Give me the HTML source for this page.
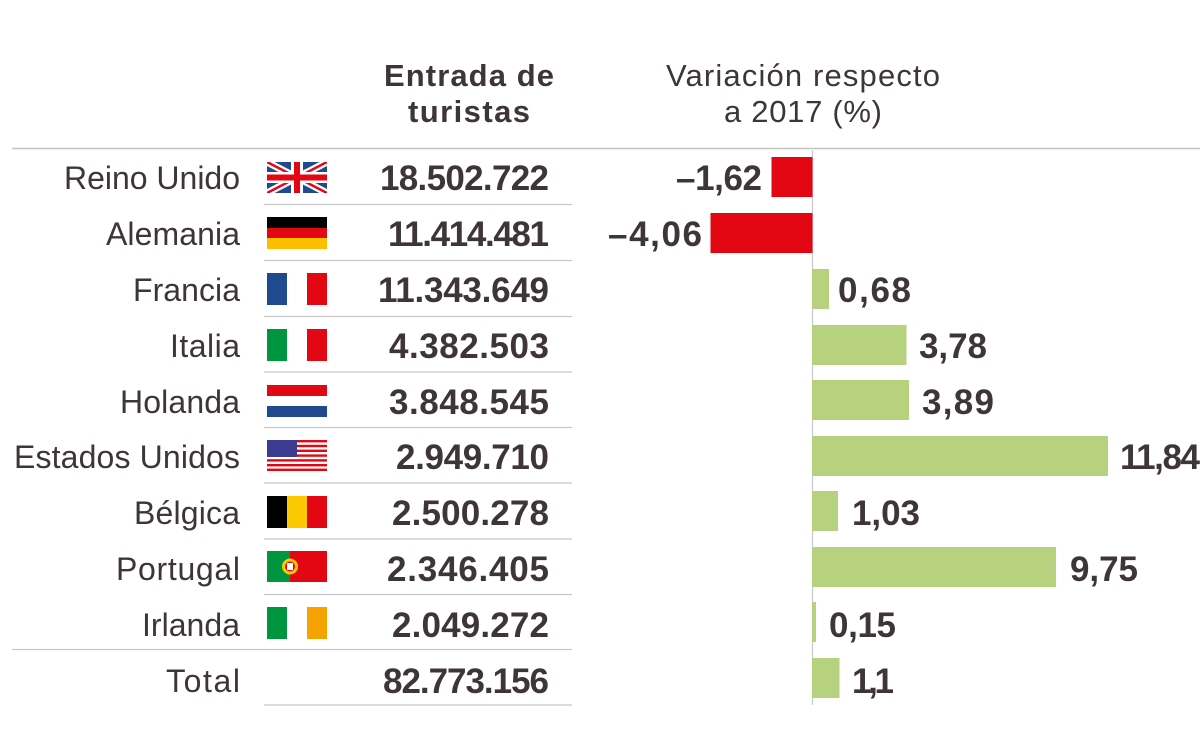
<!DOCTYPE html>
<html><head><meta charset="utf-8"><style>
html,body{margin:0;padding:0;background:#fff}
svg{display:block}
text{font-family:"Liberation Sans",sans-serif;fill:#3d3539}
.l{font-size:32px;text-anchor:end}
.n{font-size:35px;font-weight:bold;text-anchor:end}
.v{font-size:35px;font-weight:bold}
.h{font-size:31px;text-anchor:middle}
</style></head><body>
<svg width="1200" height="731" viewBox="0 0 1200 731">
<text class="h" x="469" y="86" font-weight="bold" textLength="170">Entrada de</text>
<text class="h" x="469" y="122" font-weight="bold" textLength="122">turistas</text>
<text class="h" x="803" y="86" textLength="274">Variación respecto</text>
<text class="h" x="803" y="122" textLength="158">a 2017 (%)</text>
<line x1="12" y1="148.5" x2="1200" y2="148.5" stroke="#c4c4c4" stroke-width="1.5"/>
<g stroke="#c8c8c8" stroke-width="1.2">
<line x1="264" y1="204.5" x2="572" y2="204.5"/><line x1="264" y1="260.5" x2="572" y2="260.5"/>
<line x1="264" y1="316.5" x2="572" y2="316.5"/><line x1="264" y1="372" x2="572" y2="372"/>
<line x1="264" y1="427.5" x2="572" y2="427.5"/><line x1="264" y1="483" x2="572" y2="483"/>
<line x1="264" y1="539" x2="572" y2="539"/><line x1="264" y1="594.5" x2="572" y2="594.5"/>
<line x1="12" y1="649.5" x2="572" y2="649.5"/><line x1="264" y1="705" x2="572" y2="705"/>
<line x1="812.5" y1="150" x2="812.5" y2="705"/>
</g>
<text class="l" x="240" y="189" textLength="176">Reino Unido</text>
<text class="l" x="240" y="245" textLength="134">Alemania</text>
<text class="l" x="240" y="301" textLength="107">Francia</text>
<text class="l" x="240" y="357" textLength="70">Italia</text>
<text class="l" x="240" y="413" textLength="120">Holanda</text>
<text class="l" x="240" y="468" textLength="226">Estados Unidos</text>
<text class="l" x="240" y="524" textLength="106">Bélgica</text>
<text class="l" x="240" y="580" textLength="124">Portugal</text>
<text class="l" x="240" y="636" textLength="98">Irlanda</text>
<text class="l" x="240" y="692" textLength="74">Total</text>
<text class="n" x="549" y="190" textLength="169">18.502.722</text>
<text class="n" x="549" y="246" textLength="161">11.414.481</text>
<text class="n" x="549" y="302" textLength="171">11.343.649</text>
<text class="n" x="549" y="358" textLength="160">4.382.503</text>
<text class="n" x="549" y="414" textLength="160">3.848.545</text>
<text class="n" x="549" y="469" textLength="153">2.949.710</text>
<text class="n" x="549" y="525" textLength="157">2.500.278</text>
<text class="n" x="549" y="581" textLength="162">2.346.405</text>
<text class="n" x="549" y="637" textLength="157">2.049.272</text>
<text class="n" x="549" y="693" textLength="166">82.773.156</text>
<g>
<rect x="267" y="162" width="60" height="31" fill="#1f4b8e"/>
<clipPath id="c"><rect x="267" y="162" width="60" height="31"/></clipPath>
<g clip-path="url(#c)">
<line x1="267" y1="162" x2="327" y2="193" stroke="#fff" stroke-width="7"/>
<line x1="327" y1="162" x2="267" y2="193" stroke="#fff" stroke-width="7"/>
<line x1="267" y1="162" x2="327" y2="193" stroke="#e30613" stroke-width="2.5"/>
<line x1="327" y1="162" x2="267" y2="193" stroke="#e30613" stroke-width="2.5"/>
<rect x="291" y="162" width="12" height="31" fill="#fff"/><rect x="267" y="172" width="60" height="11" fill="#fff"/>
<rect x="294" y="162" width="6" height="31" fill="#e30613"/><rect x="267" y="174.5" width="60" height="6" fill="#e30613"/>
</g>
<rect x="267" y="217" width="60" height="11" fill="#000"/><rect x="267" y="228" width="60" height="10" fill="#e30613"/><rect x="267" y="238" width="60" height="11" fill="#fcbf00"/>
<rect x="267" y="273" width="20" height="32" fill="#1f4b8e"/><rect x="307" y="273" width="20" height="32" fill="#e30613"/>
<rect x="267" y="329" width="20" height="32" fill="#009640"/><rect x="307" y="329" width="20" height="32" fill="#e30613"/>
<rect x="267" y="385" width="60" height="11" fill="#e30613"/><rect x="267" y="406" width="60" height="11" fill="#1f4b8e"/>
<rect x="267" y="440" width="60" height="31" fill="#fff"/>
<g fill="#e30613"><rect x="267" y="440" width="60" height="2.4"/><rect x="267" y="444.8" width="60" height="2.4"/><rect x="267" y="449.6" width="60" height="2.4"/><rect x="267" y="454.4" width="60" height="2.4"/><rect x="267" y="459.2" width="60" height="2.4"/><rect x="267" y="464" width="60" height="2.4"/><rect x="267" y="468.6" width="60" height="2.4"/></g>
<rect x="267" y="440" width="30" height="17" fill="#3b3b8f"/>
<rect x="267" y="496" width="20" height="32" fill="#000"/><rect x="287" y="496" width="20" height="32" fill="#fcc900"/><rect x="307" y="496" width="20" height="32" fill="#e30613"/>
<rect x="267" y="551" width="23" height="31" fill="#009640"/><rect x="290" y="551" width="37" height="31" fill="#e30613"/>
<circle cx="290" cy="566.5" r="8" fill="#fcc900"/><circle cx="290" cy="566.5" r="5" fill="#e30613"/><rect x="287" y="563" width="6" height="7" fill="#fff"/>
<rect x="267" y="607" width="20" height="32" fill="#009640"/><rect x="307" y="607" width="20" height="32" fill="#f5a300"/>
</g>
<rect x="771.5" y="157" width="41" height="40" fill="#e30613"/>
<rect x="710.5" y="213" width="102" height="40" fill="#e30613"/>
<g fill="#b7d27f">
<rect x="812" y="269" width="17" height="40"/>
<rect x="812" y="325" width="94.5" height="40"/>
<rect x="812" y="380" width="97" height="40"/>
<rect x="812" y="436" width="296" height="40"/>
<rect x="812" y="491" width="26" height="40"/>
<rect x="812" y="547" width="244" height="40"/>
<rect x="812" y="602" width="4" height="40"/>
<rect x="812" y="658" width="27.5" height="40"/>
</g>
<text class="v" x="762" y="190" text-anchor="end" textLength="86">–1,62</text>
<text class="v" x="702" y="246" text-anchor="end" textLength="94">–4,06</text>
<text class="v" x="838" y="302" textLength="73">0,68</text>
<text class="v" x="919" y="358" textLength="68">3,78</text>
<text class="v" x="922" y="414" textLength="72">3,89</text>
<text class="v" x="1120" y="469" textLength="80">11,84</text>
<text class="v" x="852" y="525" textLength="68">1,03</text>
<text class="v" x="1070" y="581" textLength="68">9,75</text>
<text class="v" x="829" y="637" textLength="67">0,15</text>
<text class="v" x="852" y="693" textLength="42">1,1</text>
</svg>
</body></html>
